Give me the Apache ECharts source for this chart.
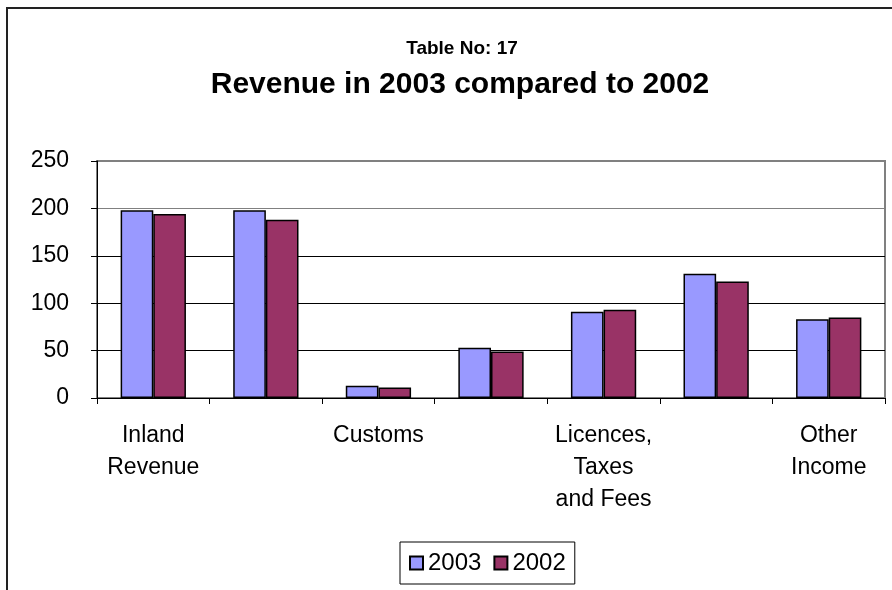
<!DOCTYPE html>
<html>
<head>
<meta charset="utf-8">
<title>Revenue in 2003 compared to 2002</title>
<script src="https://cdn.jsdelivr.net/npm/echarts@6/dist/echarts.min.js"></script>
<style>
  html, body { margin: 0; padding: 0; background: #fff; }
  #chart { width: 892px; height: 590px; }
</style>
</head>
<body>
<div id="chart"></div>
<script>
// Revenue categories (every other category carries a label on the axis)
const categories = ['Inland\nRevenue', '', 'Customs', '', 'Licences,\nTaxes\nand Fees', '', 'Other\nIncome'];
const seriesNames = ['2003', '2002'];
const revenue2003 = [198, 198, 13, 53, 91, 131, 83];
const revenue2002 = [194, 188, 11, 49, 93, 123, 85];
const yTicks = [0, 50, 100, 150, 200, 250];

const FONT = '"Liberation Sans", Arial, sans-serif';

const chart = echarts.init(document.getElementById('chart'), null, { renderer: 'canvas' });

const barStyle = (color) => ({
  color: color,
  borderColor: '#000',
  borderWidth: 1.5
});

chart.setOption({
  animation: false,
  backgroundColor: '#fff',
  textStyle: { fontFamily: FONT, color: '#000' },
  title: [
    {
      text: 'Table No: 17',
      left: 457, top: 34, textAlign: 'center',
      textStyle: { fontFamily: FONT, fontSize: 19, fontWeight: 'bold', color: '#000' }
    },
    {
      text: 'Revenue in 2003 compared to 2002',
      left: 455, top: 65, textAlign: 'center',
      textStyle: { fontFamily: FONT, fontSize: 30, fontWeight: 'bold', color: '#000' }
    }
  ],
  graphic: [
    // outer chart frame (left and top edges)
    {
      type: 'polyline', silent: true,
      shape: { points: [[7, 600], [7, 8], [900, 8]] },
      style: { stroke: '#222', lineWidth: 2, fill: null }
    }
  ],
  legend: {
    data: seriesNames,
    left: 400, top: 542,
    padding: [9, 9, 9, 9],
    itemWidth: 13, itemHeight: 13, itemGap: 12,
    borderColor: '#000', borderWidth: 1,
    textStyle: { fontFamily: FONT, fontSize: 24, color: '#000' },
    icon: 'rect'
  },
  grid: {
    left: 97, right: 7, top: 161, bottom: 192,
    show: true, borderColor: '#808080', borderWidth: 2,
    containLabel: false
  },
  xAxis: {
    type: 'category',
    data: categories,
    boundaryGap: true,
    axisLine: { show: true, lineStyle: { color: '#000', width: 1 } },
    axisTick: { show: true, inside: false, length: 6, interval: 0, alignWithLabel: false, lineStyle: { color: '#000' } },
    axisLabel: {
      interval: 0, margin: 22,
      fontFamily: FONT, fontSize: 23, lineHeight: 32, color: '#000', align: 'center'
    },
    splitLine: { show: false }
  },
  yAxis: {
    type: 'value',
    min: yTicks[0], max: yTicks[yTicks.length - 1], interval: 50,
    axisLine: { show: true, lineStyle: { color: '#000', width: 1 } },
    axisTick: { show: true, inside: false, length: 6, lineStyle: { color: '#000' } },
    axisLabel: { margin: 28, fontFamily: FONT, fontSize: 23, color: '#000' },
    splitLine: {
      show: true,
      lineStyle: { color: ['#000', '#000', '#000', '#000', '#808080', '#808080'], width: 1 }
    }
  },
  series: [
    {
      name: seriesNames[0], type: 'bar', data: revenue2003,
      barGap: '0%', barCategoryGap: '42%',
      itemStyle: barStyle('#9999FF')
    },
    {
      name: seriesNames[1], type: 'bar', data: revenue2002,
      barGap: '0%', barCategoryGap: '42%',
      itemStyle: barStyle('#993366')
    }
  ]
});
</script>
</body>
</html>
